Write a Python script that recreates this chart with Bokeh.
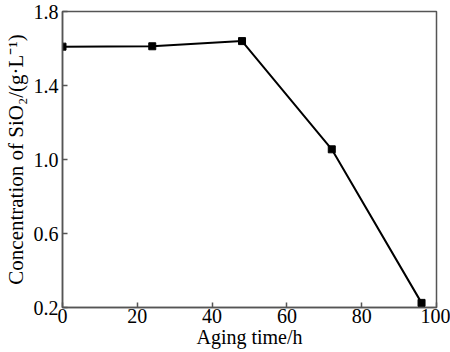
from bokeh.plotting import figure
from bokeh.embed import file_html
from bokeh.resources import INLINE
from bokeh.models import Range1d, FixedTicker, CustomJSTickFormatter

aging_time = [0, 24, 48, 72, 96]
concentration = [1.61, 1.612, 1.64, 1.055, 0.225]
x_ticks = [0, 20, 40, 60, 80, 100]
y_ticks = [0.2, 0.6, 1.0, 1.4, 1.8]

p = figure(width=450, height=352, output_backend="svg", toolbar_location=None,
           x_range=Range1d(0, 100), y_range=Range1d(0.2, 1.8),
           min_border_left=60, min_border_right=14, min_border_top=11, min_border_bottom=45)
p.line(aging_time, concentration, line_color="black", line_width=2)
p.scatter(aging_time, concentration, marker="square", size=7, color="black")

p.grid.visible = False
p.outline_line_color = "#555555"
p.outline_line_width = 1.5
font = "Liberation Serif"
for ax in (p.xaxis[0], p.yaxis[0]):
    ax.axis_line_color = "#555555"
    ax.axis_line_width = 1.5
    ax.major_tick_in = 5
    ax.major_tick_out = 0
    ax.major_tick_line_color = "#555555"
    ax.major_tick_line_width = 1.5
    ax.minor_tick_line_color = None
    ax.major_label_text_font = font
    ax.major_label_text_font_size = "20px"
    ax.major_label_text_color = "black"
    ax.axis_label_text_font = font
    ax.axis_label_text_font_size = "20px"
    ax.axis_label_text_font_style = "normal"
    ax.axis_label_text_color = "black"

p.yaxis.axis_label_text_font_size = "21px"
p.xaxis.ticker = FixedTicker(ticks=x_ticks)
p.yaxis.ticker = FixedTicker(ticks=y_ticks)
p.yaxis.formatter = CustomJSTickFormatter(code="return tick.toFixed(1);")
p.xaxis.axis_label = "Aging time/h"
p.yaxis.axis_label = "Concentration of SiO\u2082/(g\u00b7L\u207b\u00b9)"
p.xaxis.major_label_standoff = 1
p.yaxis.major_label_standoff = 4
p.xaxis.axis_label_standoff = 0
p.yaxis.axis_label_standoff = 3

open("out.html", "w").write(file_html(p, INLINE))
